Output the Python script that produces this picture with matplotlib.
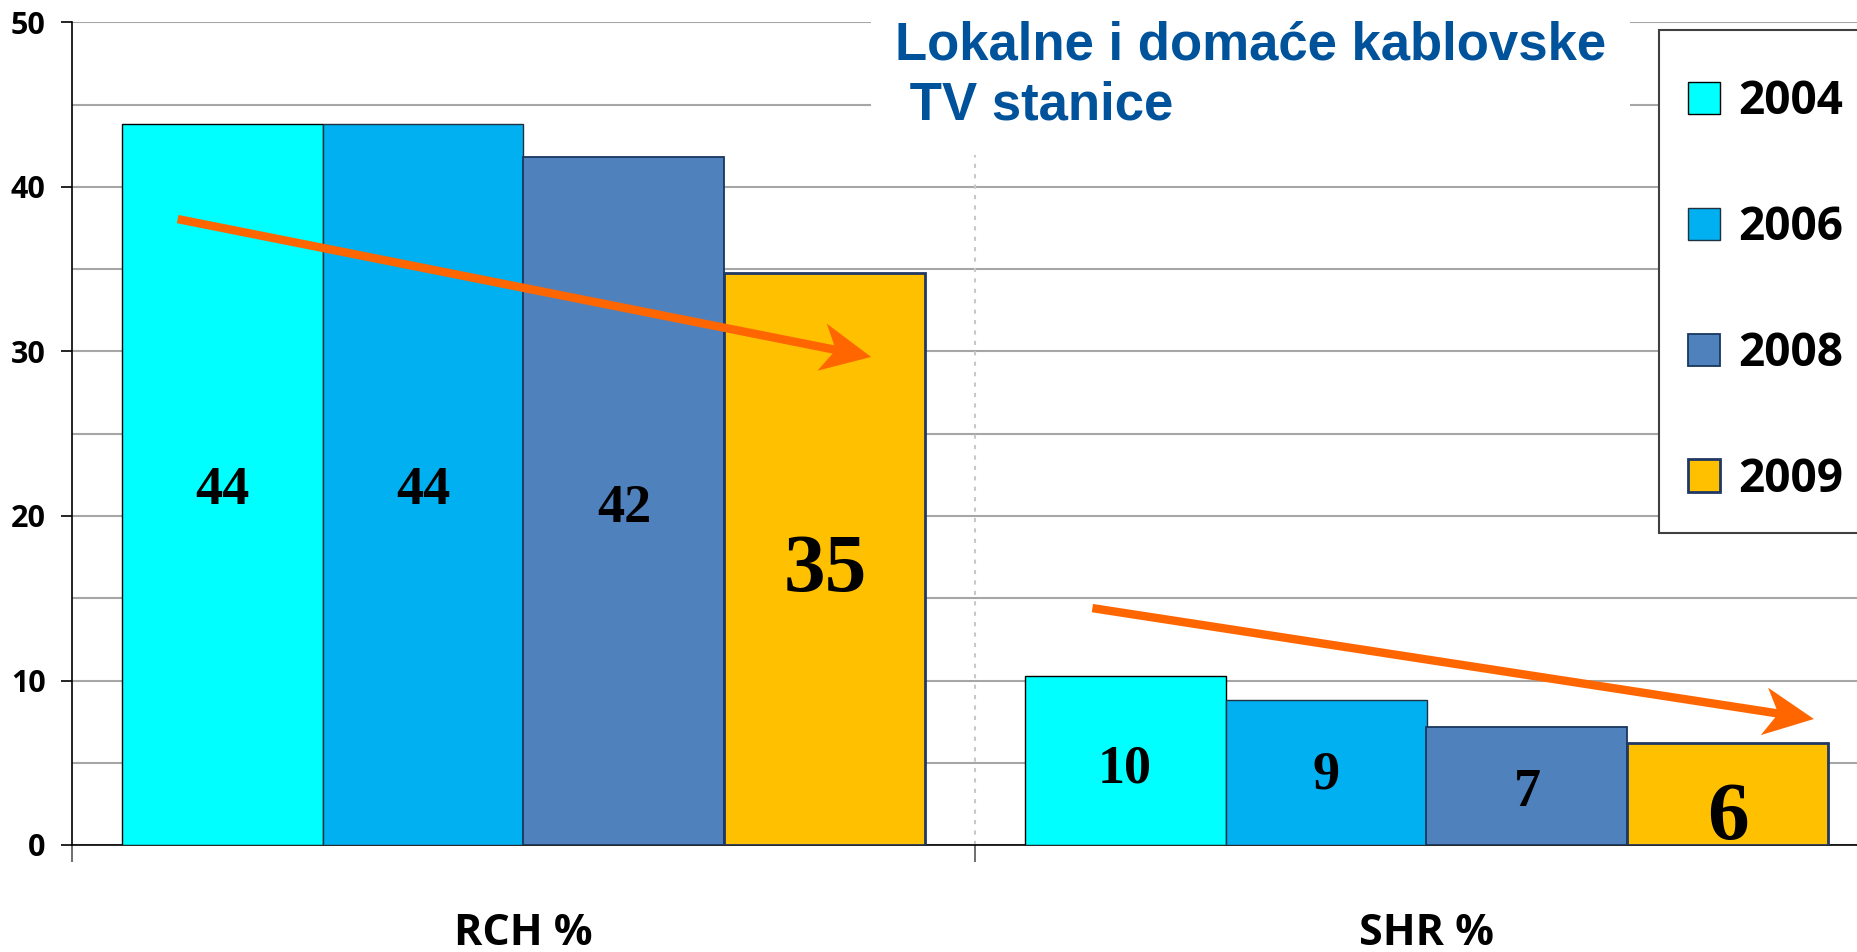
import matplotlib
matplotlib.use("Agg")
import matplotlib.pyplot as plt
import numpy as np
from matplotlib.patches import Polygon, Rectangle
from matplotlib.transforms import IdentityTransform

categories = ["RCH %", "SHR %"]
years = ["2004", "2006", "2008", "2009"]
values = {
    "2004": [43.8, 10.3],
    "2006": [43.8, 8.8],
    "2008": [41.8, 7.2],
    "2009": [34.8, 6.2],
}
labels = {
    "2004": ["44", "10"],
    "2006": ["44", "9"],
    "2008": ["42", "7"],
    "2009": ["35", "6"],
}
# fraction of bar height where the value label sits
label_frac = {
    "2004": [0.492, 0.445],
    "2006": [0.492, 0.48],
    "2008": [0.488, 0.44],
    "2009": [0.478, 0.25],
}
label_size = {"2004": 39, "2006": 39, "2008": 39, "2009": 60}
face = {"2004": "#00FFFF", "2006": "#00B0F0", "2008": "#4F81BD", "2009": "#FFC000"}
edge = {"2004": "#000000", "2006": "#1F3040", "2008": "#17375E", "2009": "#1F3864"}
edge_w = {"2004": 1.0, "2006": 1.0, "2008": 1.3, "2009": 2.0}

# trend arrows (start, tip) in data coordinates
arrows = [((-0.383, 38.05), (0.385, 29.67)), ((0.63, 14.4), (1.429, 7.66))]

title = "Lokalne i domaće kablovske\n TV stanice"

W, H = 1858, 952
fig = plt.figure(figsize=(W / 100, H / 100), dpi=100)
ax = fig.add_axes([72 / W, 1 - 845 / H, 1806 / W, (845 - 22.5) / H])

x = np.arange(len(categories))
bw = 0.2225
for i, yr in enumerate(years):
    pos = x + (i - 1.5) * bw
    bars = ax.bar(pos, values[yr], width=bw, color=face[yr], edgecolor=edge[yr],
                  linewidth=edge_w[yr], label=yr, zorder=3)
    for j, b in enumerate(bars):
        ax.text(b.get_x() + b.get_width() / 2, values[yr][j] * label_frac[yr][j],
                labels[yr][j], ha="center", va="center", fontsize=label_size[yr],
                fontweight="bold", family="Liberation Serif", zorder=5)

ax.set_xlim(-0.5, 1.5)
ax.set_ylim(0, 50)
ax.set_yticks(np.arange(0, 51, 10))
ax.set_yticks(np.arange(5, 50, 10), minor=True)
ax.yaxis.grid(True, which="both", color="#A6A6A6", linewidth=1.5, zorder=0)
ax.set_axisbelow(True)
ax.tick_params(axis="y", which="major", length=8, width=1.2, pad=11, direction="out")
ax.tick_params(axis="y", which="minor", length=0)
for t in ax.get_yticklabels():
    t.set_fontsize(22)
    t.set_fontweight("bold")
    t.set_family("Open Sans")

ax.set_xticks(x)
ax.set_xticklabels(categories)
ax.set_xticks([-0.5, 0.5, 1.5], minor=True)
ax.tick_params(axis="x", which="major", length=0, pad=48)
ax.tick_params(axis="x", which="minor", length=12, width=1.2, color="#555555", direction="out")
for t in ax.get_xticklabels():
    t.set_fontsize(31)
    t.set_fontweight("bold")
    t.set_family("Open Sans")

ax.spines["top"].set_visible(False)
ax.spines["right"].set_visible(False)
ax.spines["left"].set_color("black")
ax.spines["left"].set_linewidth(1.2)
ax.spines["bottom"].set_color("black")
ax.spines["bottom"].set_linewidth(1.2)

ax.axvline(0.5, color="#C8C8C8", linestyle=(0, (2, 3)), linewidth=1.5, zorder=1)

# stealth-style arrows built in pixel space from data endpoints
head_len, head_half, notch, shaft_half = 50.0, 24.0, 14.0, 4.2
for (s, e) in arrows:
    p0 = ax.transData.transform(s)
    p1 = ax.transData.transform(e)
    d = p1 - p0
    u = d / np.hypot(*d)
    n = np.array([-u[1], u[0]])
    back = p1 - head_len * u
    join = p1 - (head_len - notch) * u
    # point where shaft edge meets the notched back edge
    frac = shaft_half / head_half
    j_up = join + frac * ((back + head_half * n) - join)
    j_dn = join + frac * ((back - head_half * n) - join)
    pts = [p0 + shaft_half * n, j_up, back + head_half * n, p1,
           back - head_half * n, j_dn, p0 - shaft_half * n]
    ax.add_patch(Polygon(pts, closed=True, transform=IdentityTransform(),
                         facecolor="#FF6600", edgecolor="none", zorder=6, clip_on=False))

fig.text(895 / W, 1 - 21 / H, title, ha="left", va="top", fontsize=38,
         fontweight="bold", family="Liberation Sans", color="#00539B", linespacing=1.25,
         bbox=dict(facecolor="white", edgecolor="none", pad=17), zorder=10)

# legend frame
fig.add_artist(Rectangle((1659 / W, 1 - 533 / H), 400 / W, (533 - 30) / H,
                         transform=fig.transFigure, facecolor="white", edgecolor="#404040",
                         linewidth=1.5, zorder=4))
leg = fig.legend(loc="upper left", bbox_to_anchor=(1688 / W, 1 - 78 / H), bbox_transform=fig.transFigure,
                 prop={"family": "Open Sans", "weight": "bold", "size": 33},
                 frameon=False, borderaxespad=0, borderpad=0,
                 handlelength=0.7, handleheight=0.7, handletextpad=0.4, labelspacing=1.72)
leg.set_zorder(5)

fig.savefig("out.png", dpi=100)
